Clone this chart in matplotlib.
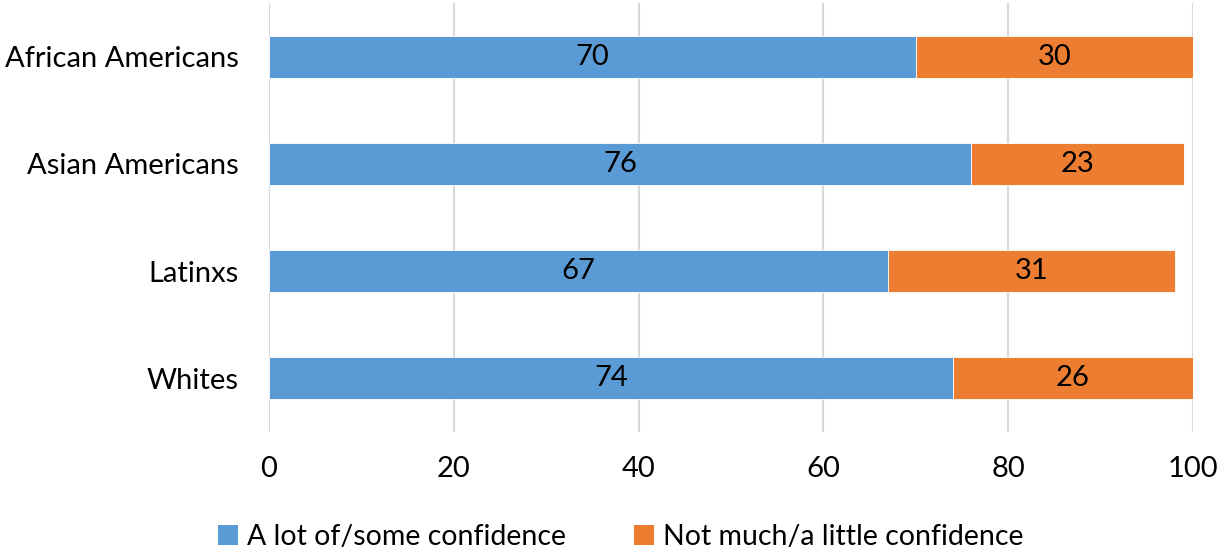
import matplotlib
matplotlib.use("Agg")
import matplotlib.pyplot as plt
from matplotlib.patches import Patch

groups = ["African Americans", "Asian Americans", "Latinxs", "Whites"]
confident = [70, 76, 67, 74]
not_confident = [30, 23, 31, 26]
series_names = ["A lot of/some confidence", "Not much/a little confidence"]
x_ticks = [0, 20, 40, 60, 80, 100]

BLUE = "#5B9BD5"
ORANGE = "#ED7D31"
FONT = ["Lato", "DejaVu Sans"]
FS = 21

plt.rcParams["font.family"] = FONT

fig = plt.figure(figsize=(12.17, 5.52), dpi=100)
ax = fig.add_axes([0.2210, 0.2174, 0.7593, 0.7772])

ypos = list(range(len(groups)))
h = 0.39
b1 = ax.barh(ypos, confident, height=h, color=BLUE, edgecolor="white", linewidth=0.6, zorder=3)
b2 = ax.barh(ypos, not_confident, left=confident, height=h, color=ORANGE,
             edgecolor="white", linewidth=0.6, zorder=3)

for bars, vals in ((b1, confident), (b2, not_confident)):
    for rect, v in zip(bars, vals):
        ax.text(rect.get_x() + rect.get_width() / 2, rect.get_y() + rect.get_height() / 2,
                f"{v}", ha="center", va="center", fontsize=FS, color="black", zorder=4)

ax.set_ylim(len(groups) - 0.5, -0.5)
ax.set_xlim(0, 100)
ax.set_yticks(ypos)
ax.set_yticklabels(groups, fontsize=FS)
ax.set_xticks(x_ticks)
ax.set_xticklabels([str(t) for t in x_ticks], fontsize=FS)
ax.tick_params(axis="y", length=0, pad=22)
ax.tick_params(axis="x", length=0, pad=17)
for s in ax.spines.values():
    s.set_visible(False)
ax.xaxis.grid(True, color="#d9d9d9", linewidth=1.5, zorder=0)
ax.set_axisbelow(True)

handles = [Patch(facecolor=BLUE), Patch(facecolor=ORANGE)]
fig.legend(handles, series_names, loc="center", bbox_to_anchor=(0.51, 1 - 537 / 552),
           ncol=2, frameon=False, fontsize=20.5, handlelength=0.7, handleheight=0.7,
           handletextpad=0.3, columnspacing=2.4)

fig.savefig("out.png", dpi=100)
